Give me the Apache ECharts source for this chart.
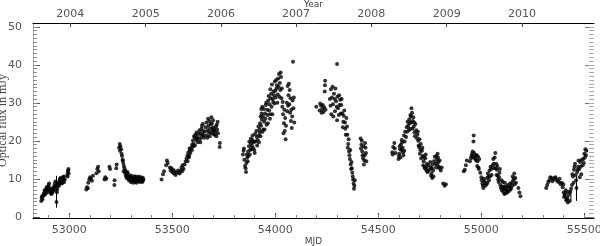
<!DOCTYPE html>
<html>
<head>
<meta charset="utf-8">
<script src="https://cdn.jsdelivr.net/npm/echarts@6/dist/echarts.min.js"></script>
<style>
html,body{margin:0;padding:0;background:#fff;}
#chart{width:600px;height:246px;}
</style>
</head>
<body>
<div id="chart"></div>
<script>
// axis ticks
var mjdTicks = [53000, 53500, 54000, 54500, 55000, 55500];
var yearTicks = [53005, 53371, 53736, 54101, 54466, 54832, 55197];
var yearLabels = ['2004', '2005', '2006', '2007', '2008', '2009', '2010'];
var fluxTicks = [0, 10, 20, 30, 40, 50];

// [MJD, optical flux (mJy)], one array per season
var season2003 = [[52864,4.2],[52866,5.0],[52868,5.4],[52870,4.6],[52873,5.5],[52876,6.0],[52879,6.3],[52880,7.0],[52882,5.8],[52885,6.8],[52886,6.2],[52888,7.2],[52890,7.8],[52891,6.5],[52894,7.5],[52897,8.0],[52898,7.0],[52900,8.4],[52902,8.8],[52903,7.6],[52906,6.8],[52908,7.2],[52909,6.2],[52912,6.6],[52914,6.0],[52915,7.0],[52918,6.4],[52920,7.6],[52921,6.9],[52924,7.4],[52926,7.0],[52927,8.2],[52930,8.8],[52932,7.8],[52933,9.3],[52936,8.0],[52938,3.9],[52940,6.5],[52942,7.2],[52944,9.0],[52945,8.0],[52948,8.6],[52950,8.2],[52951,9.2],[52954,9.8],[52956,9.0],[52957,10.2],[52960,9.4],[52962,10.0],[52963,8.8],[52966,9.6],[52968,9.0],[52969,10.4],[52972,10.0],[52974,10.6],[52975,9.2],[52978,9.8],[52990,11.0],[52992,10.6],[52993,11.8],[52995,12.2],[52996,12.6],[52997,11.4]];
var season2004 = [[53083,7.2],[53086,7.8],[53090,7.5],[53092,9.0],[53097,9.8],[53101,10.4],[53105,10.0],[53110,9.5],[53115,10.8],[53132,11.5],[53136,12.6],[53140,13.2],[53143,12.0],[53171,9.8],[53175,10.4],[53180,10.0],[53195,13.2],[53198,12.6],[53219,8.4],[53220,9.6],[53228,12.8],[53230,13.8],[53242,18.2],[53245,19.2],[53246,17.4],[53248,18.6],[53252,17.8],[53254,16.6],[53256,16.0],[53259,15.0],[53260,14.8],[53262,14.2],[53264,12.0],[53265,13.4],[53268,12.8],[53270,11.6],[53272,12.2],[53274,10.8],[53276,11.6],[53278,10.2],[53280,11.0],[53282,11.8],[53284,10.6],[53286,10.0],[53288,11.2],[53290,9.6],[53292,10.4],[53296,9.8],[53298,9.2],[53300,10.4],[53302,10.8],[53304,9.4],[53306,10.2],[53308,10.0],[53310,9.0],[53312,9.6],[53314,10.0],[53316,10.6],[53318,9.8],[53320,9.2],[53322,10.6],[53324,10.0],[53326,9.0],[53328,9.6],[53330,9.8],[53332,10.4],[53334,10.0],[53336,9.4],[53338,10.6],[53340,9.8],[53342,9.2],[53344,10.2],[53346,9.8],[53348,9.6],[53350,10.4],[53352,10.0],[53354,9.2],[53356,9.4],[53358,10.2],[53360,9.8]];
var season2005 = [[53448,9.8],[53455,11.2],[53460,12.0],[53470,13.6],[53474,14.8],[53478,14.2],[53488,13.0],[53492,12.2],[53496,12.8],[53500,11.8],[53504,12.4],[53508,11.4],[53512,12.0],[53516,11.0],[53520,11.6],[53528,12.2],[53532,11.6],[53536,11.4],[53540,12.2],[53545,13.0],[53548,12.0],[53550,13.6],[53555,12.6],[53560,13.8],[53565,14.6],[53570,15.4],[53574,16.2],[53574,14.6],[53578,17.0],[53580,15.6],[53582,16.0],[53584,18.0],[53586,17.6],[53588,16.8],[53592,18.2],[53596,19.0],[53596,17.6],[53600,20.0],[53602,18.6],[53604,19.2],[53606,21.2],[53608,20.8],[53610,18.8],[53612,21.6],[53616,20.2],[53618,22.2],[53620,21.0],[53622,20.6],[53624,19.6],[53628,21.8],[53632,22.8],[53634,20.4],[53636,19.6],[53638,22.0],[53640,21.0],[53642,23.2],[53644,24.0],[53646,21.6],[53648,24.4],[53650,22.6],[53652,21.4],[53654,20.8],[53658,22.4],[53662,23.6],[53666,24.8],[53668,21.4],[53670,20.8],[53672,22.8],[53674,25.8],[53676,24.0],[53678,22.2],[53680,25.2],[53682,21.2],[53684,23.2],[53686,24.4],[53688,22.0],[53690,26.2],[53692,24.6],[53694,22.6],[53696,23.6],[53698,25.4],[53700,21.8],[53702,23.2],[53704,22.8],[53706,21.6],[53710,22.4],[53712,23.8],[53714,21.2],[53716,24.2],[53718,23.0],[53720,25.0],[53722,22.0],[53730,18.4],[53731,19.4]];
var season2006 = [[53843,16.4],[53846,17.4],[53848,18.0],[53850,15.0],[53853,13.4],[53856,12.8],[53858,11.8],[53860,14.2],[53862,16.4],[53864,15.6],[53866,14.6],[53868,17.2],[53870,16.0],[53872,18.6],[53874,19.8],[53876,16.4],[53878,17.6],[53880,19.4],[53882,20.6],[53884,17.8],[53886,18.8],[53888,20.2],[53890,21.4],[53892,18.2],[53894,19.6],[53896,19.8],[53898,17.6],[53900,16.8],[53902,21.8],[53905,19.8],[53908,22.6],[53910,21.0],[53912,18.8],[53915,20.2],[53918,23.8],[53920,21.4],[53921,19.6],[53923,23.0],[53925,22.2],[53926,24.6],[53928,21.2],[53929,26.4],[53931,24.0],[53932,28.4],[53934,27.2],[53935,25.6],[53937,29.0],[53938,22.4],[53940,26.4],[53942,23.0],[53944,28.4],[53946,25.0],[53948,23.0],[53950,27.2],[53952,25.8],[53954,29.4],[53956,30.0],[53958,24.2],[53960,28.2],[53962,26.8],[53964,24.6],[53966,30.6],[53968,31.8],[53970,28.0],[53972,29.6],[53974,25.8],[53975,27.0],[53976,33.6],[53978,31.2],[53980,32.4],[53982,29.0],[53984,34.8],[53986,27.0],[53988,31.0],[53990,30.2],[53992,33.0],[53994,32.0],[53996,29.8],[53998,35.6],[54000,33.2],[54002,31.4],[54004,36.0],[54006,33.8],[54008,34.6],[54010,30.0],[54012,32.2],[54014,36.4],[54016,34.2],[54018,37.6],[54020,31.6],[54022,35.2],[54024,33.4],[54026,38.0],[54028,36.8],[54030,31.2],[54032,33.8],[54034,29.0],[54036,30.2],[54038,27.0],[54040,22.0],[54042,24.6],[54044,28.2],[54046,22.6],[54048,26.0],[54050,20.4],[54052,24.0],[54056,30.0],[54058,27.8],[54060,34.4],[54062,29.2],[54064,32.0],[54066,35.0],[54068,29.6],[54070,33.4],[54072,27.4],[54074,31.2],[54076,25.2],[54078,28.2],[54080,23.4],[54082,26.4],[54084,30.6],[54086,40.8],[54088,28.6],[54090,31.4],[54092,24.8]];
var season2007 = [[54199,29.0],[54215,28.0],[54218,29.8],[54222,29.2],[54225,27.4],[54228,28.4],[54231,29.4],[54234,27.6],[54238,28.8],[54240,33.0],[54241,34.6],[54242,35.8],[54244,28.2],[54265,31.0],[54268,29.2],[54270,33.6],[54272,27.0],[54275,31.4],[54278,34.2],[54280,29.6],[54282,26.4],[54285,32.4],[54288,31.0],[54290,27.8],[54292,33.8],[54295,30.4],[54298,29.0],[54300,40.2],[54300,25.4],[54302,31.6],[54305,28.6],[54308,26.8],[54310,32.0],[54312,29.4],[54315,30.8],[54318,27.2],[54320,29.4],[54322,31.0],[54325,27.2],[54328,23.6],[54330,25.0],[54332,26.6],[54335,28.0],[54338,24.8],[54340,23.2],[54342,21.6],[54345,26.0],[54348,23.8],[54350,21.6],[54352,18.2],[54354,19.2],[54356,20.4],[54358,17.2],[54360,16.2],[54362,15.2],[54364,17.6],[54366,13.8],[54368,12.6],[54370,14.4],[54372,12.8],[54374,11.6],[54376,10.6],[54378,9.8],[54380,8.8],[54382,7.4],[54384,8.2],[54386,9.6],[54414,20.6],[54416,18.0],[54418,19.0],[54420,20.0],[54422,17.2],[54424,16.2],[54426,15.4],[54428,18.6],[54430,13.8],[54432,14.8],[54434,16.2],[54436,19.4],[54438,18.2],[54440,16.8],[54442,14.6]];
var season2008 = [[54568,17.0],[54570,16.4],[54572,18.4],[54578,19.4],[54580,18.0],[54584,16.8],[54598,15.2],[54600,16.0],[54602,16.6],[54604,18.6],[54606,17.8],[54608,15.6],[54610,19.0],[54612,17.6],[54614,20.2],[54616,19.6],[54618,18.2],[54620,17.0],[54622,16.2],[54625,21.4],[54626,17.4],[54628,19.8],[54630,22.4],[54635,21.0],[54638,23.6],[54640,22.4],[54642,25.0],[54645,24.0],[54648,22.8],[54650,25.6],[54652,24.6],[54655,23.2],[54656,26.8],[54658,26.4],[54660,24.8],[54661,28.6],[54664,27.4],[54666,23.2],[54668,25.2],[54670,26.2],[54672,23.8],[54674,24.8],[54676,22.2],[54678,21.2],[54680,24.4],[54684,22.8],[54688,20.6],[54690,21.6],[54692,22.4],[54694,20.0],[54696,18.8],[54698,18.4],[54700,20.4],[54702,16.6],[54704,17.6],[54706,19.2],[54708,15.4],[54712,17.4],[54714,18.2],[54716,16.0],[54718,13.6],[54720,14.6],[54722,15.8],[54724,13.2],[54726,12.8],[54728,15.4],[54730,16.4],[54732,12.4],[54734,13.2],[54736,14.0],[54738,11.8],[54740,12.0],[54744,13.6],[54748,12.4],[54752,14.4],[54754,13.0],[54756,10.8],[54758,11.4],[54760,12.8],[54762,10.2],[54764,13.8],[54766,12.2],[54768,10.6],[54770,14.6],[54774,15.8],[54778,14.0],[54780,13.0],[54782,16.0],[54784,15.0],[54786,13.8],[54788,16.6],[54790,15.6],[54792,14.4],[54794,13.2],[54796,12.8],[54798,14.8],[54803,12.2],[54808,13.0],[54815,8.8],[54822,8.2],[54828,8.6]];
var season2009 = [[54915,12.0],[54920,12.4],[54925,13.6],[54930,14.8],[54945,14.6],[54950,15.4],[54952,16.0],[54955,16.6],[54958,17.2],[54960,15.8],[54962,19.8],[54963,21.4],[54965,16.8],[54967,15.6],[54970,15.2],[54974,16.2],[54976,14.8],[54978,16.2],[54980,13.4],[54982,14.6],[54984,15.8],[54986,13.0],[54988,12.6],[54990,15.2],[54995,11.6],[55000,10.4],[55002,9.6],[55005,8.8],[55008,8.2],[55010,7.6],[55012,10.0],[55015,9.4],[55018,9.0],[55020,8.2],[55025,8.6],[55028,10.2],[55030,9.0],[55032,11.4],[55035,10.6],[55038,9.6],[55040,12.2],[55042,10.6],[55045,13.2],[55048,12.6],[55050,11.0],[55055,13.6],[55058,15.2],[55060,14.0],[55062,12.8],[55065,15.6],[55068,16.8],[55070,12.8],[55072,14.0],[55074,11.0],[55076,12.4],[55078,13.4],[55080,10.8],[55082,9.8],[55084,9.2],[55086,10.4],[55088,11.6],[55090,12.6],[55092,8.4],[55095,7.6],[55098,9.6],[55100,7.0],[55102,8.0],[55104,9.2],[55106,6.6],[55108,7.4],[55110,7.8],[55112,6.0],[55114,9.0],[55116,8.0],[55118,6.2],[55120,7.2],[55124,7.0],[55126,6.4],[55128,8.4],[55130,7.8],[55134,6.8],[55136,8.0],[55140,8.8],[55142,7.2],[55145,7.6],[55148,9.0],[55150,8.2],[55152,10.6],[55155,9.6],[55158,10.0],[55160,11.4],[55162,8.6],[55165,10.2],[55168,9.0],[55180,7.6],[55185,6.4],[55190,5.4]];
var season2010 = [[55315,7.6],[55320,8.4],[55325,9.2],[55330,9.6],[55335,10.4],[55340,10.2],[55345,9.4],[55350,9.8],[55355,10.2],[55360,10.4],[55365,9.8],[55370,9.4],[55375,9.2],[55380,10.0],[55385,8.6],[55390,9.0],[55395,7.8],[55398,8.6],[55400,6.4],[55402,5.2],[55405,5.6],[55408,6.2],[55410,7.0],[55412,4.4],[55415,4.6],[55418,5.0],[55420,3.8],[55422,6.6],[55425,5.8],[55428,4.2],[55432,6.6],[55436,7.4],[55440,8.4],[55442,11.2],[55445,10.6],[55448,9.0],[55450,12.4],[55452,13.2],[55455,14.0],[55458,11.0],[55460,9.6],[55462,7.6],[55465,11.8],[55468,12.4],[55470,13.2],[55472,14.8],[55475,12.6],[55478,10.4],[55480,14.4],[55482,13.2],[55485,11.2],[55488,15.0],[55492,13.6],[55495,15.2],[55498,14.2],[55500,16.6],[55503,15.6],[55505,17.8],[55508,16.2],[55510,17.4]];
// [MJD, low, high]
var errorBars = [[52938, 2.4, 10.8], [55435, 4.0, 6.8], [55462, 4.2, 10.7]];

var points = [].concat(season2003, season2004, season2005, season2006, season2007, season2008, season2009, season2010);

var mjdMinor = [];
for (var m = 52900; m <= 55500; m += 100) mjdMinor.push(m);
var fluxMinor = [];
for (var f = 1; f <= 50; f++) fluxMinor.push(f);

var xMin = 52824, xMax = 55547, yMin = -0.3, yMax = 51;
var txt = {color: '#555', fontFamily: 'DejaVu Sans', fontSize: 11};

var myChart = echarts.init(document.getElementById('chart'));
myChart.setOption({
	animation: false,
	grid: {left: 33, right: 6, top: 23, bottom: 28, outerBoundsMode: 'none'},
	xAxis: [
		{
			type: 'value', position: 'bottom', min: xMin, max: xMax,
			name: 'MJD', nameLocation: 'middle', nameGap: 19, nameMoveOverlap: false,
			nameTextStyle: {color: '#444', fontFamily: 'DejaVu Sans', fontSize: 9},
			axisLine: {onZero: false, lineStyle: {color: '#000', width: 1}},
			axisTick: {inside: true, length: 5, customValues: mjdTicks, lineStyle: {color: '#444'}},
			axisLabel: Object.assign({
				customValues: mjdTicks, margin: 7,
				formatter: function (v) { return String(v); }
			}, txt),
			splitLine: {show: false}
		},
		{
			type: 'value', position: 'bottom', min: xMin, max: xMax,
			axisLine: {show: false, onZero: false},
			axisTick: {inside: true, length: 3, customValues: mjdMinor, lineStyle: {color: '#888'}},
			axisLabel: {show: false},
			splitLine: {show: false}
		},
		{
			type: 'value', position: 'top', min: xMin, max: xMax,
			name: 'Year', nameLocation: 'middle', nameGap: 14, nameMoveOverlap: false,
			nameTextStyle: {color: '#444', fontFamily: 'DejaVu Sans', fontSize: 9},
			axisLine: {onZero: false, lineStyle: {color: '#000', width: 1}},
			axisTick: {inside: true, length: 4, customValues: yearTicks, lineStyle: {color: '#444'}},
			axisLabel: Object.assign({
				customValues: yearTicks, margin: 3,
				formatter: function (v) { return yearLabels[yearTicks.indexOf(v)]; }
			}, txt),
			splitLine: {show: false}
		}
	],
	yAxis: [
		{
			type: 'value', position: 'left', min: yMin, max: yMax,
			name: 'Optical flux in mJy', nameLocation: 'middle', nameGap: 24, nameRotate: 90, nameMoveOverlap: false,
			nameTextStyle: {color: '#444', fontFamily: 'Liberation Serif', fontSize: 12},
			axisLine: {onZero: false, lineStyle: {color: '#aaa'}},
			axisTick: {inside: true, length: 7, customValues: fluxTicks, lineStyle: {color: '#555'}},
			axisLabel: Object.assign({customValues: fluxTicks, margin: 11}, txt),
			splitLine: {show: false}
		},
		{
			type: 'value', position: 'left', min: yMin, max: yMax,
			axisLine: {show: false, onZero: false},
			axisTick: {inside: true, length: 4, customValues: fluxMinor, lineStyle: {color: '#888'}},
			axisLabel: {show: false}, splitLine: {show: false}
		},
		{
			type: 'value', position: 'right', min: yMin, max: yMax,
			axisLine: {show: false, onZero: false},
			axisTick: {inside: true, length: 9, customValues: fluxTicks, lineStyle: {color: '#777'}},
			axisLabel: {show: false}, splitLine: {show: false}
		},
		{
			type: 'value', position: 'right', min: yMin, max: yMax,
			axisLine: {show: false, onZero: false},
			axisTick: {inside: true, length: 5, customValues: fluxMinor, lineStyle: {color: '#aaa'}},
			axisLabel: {show: false}, splitLine: {show: false}
		}
	],
	series: [
		{
			type: 'custom', xAxisIndex: 0, yAxisIndex: 0, silent: true,
			data: errorBars,
			renderItem: function (params, api) {
				var p1 = api.coord([api.value(0), api.value(1)]);
				var p2 = api.coord([api.value(0), api.value(2)]);
				return {type: 'line', shape: {x1: p1[0], y1: p1[1], x2: p2[0], y2: p2[1]}, style: {stroke: '#000', lineWidth: 1}};
			}
		},
		{
			type: 'scatter', xAxisIndex: 0, yAxisIndex: 0, silent: true,
			symbol: 'circle', symbolSize: 4,
			itemStyle: {color: '#000'},
			data: points
		}
	]
});
</script>
</body>
</html>
